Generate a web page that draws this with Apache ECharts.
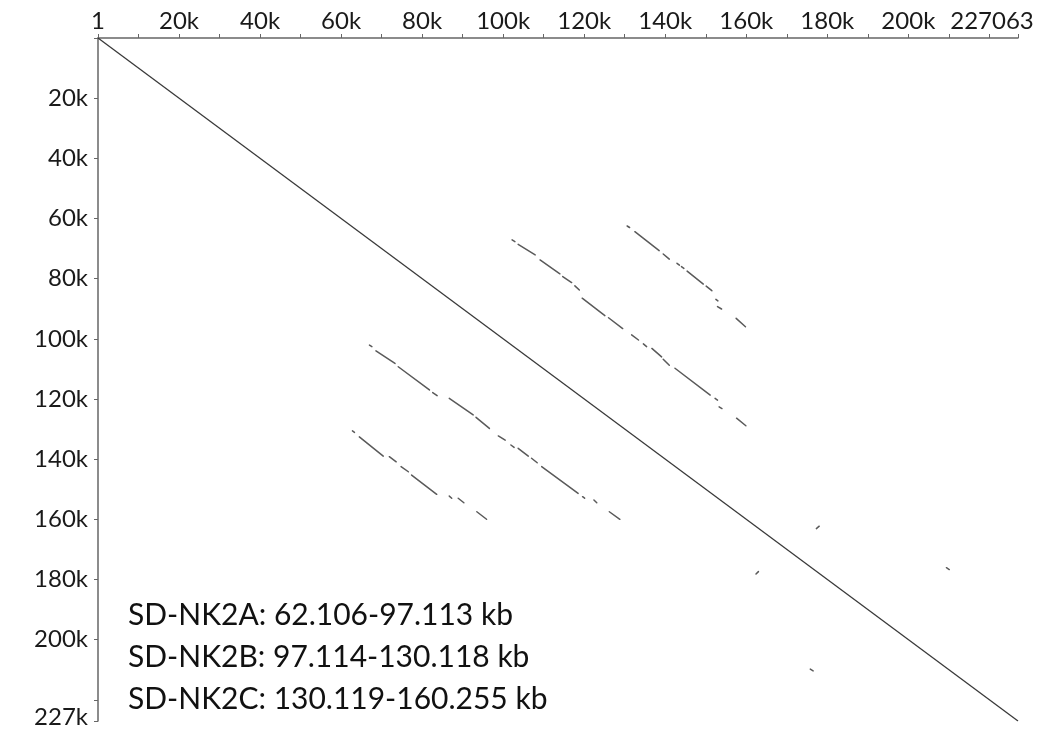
<!DOCTYPE html>
<html><head><meta charset="utf-8">
<script src="https://cdn.jsdelivr.net/npm/echarts@6/dist/echarts.min.js"></script>
<style>html,body{margin:0;padding:0;background:#fff}#c{width:1054px;height:738px}</style>
</head><body><div id="c"></div>
<script>
// ---- data (positions in bp / kb) ----
const genomeLength = 227063;
const xLabelValues = [0, 20000, 40000, 60000, 80000, 100000, 120000, 140000, 160000, 180000, 200000, 227063];
const xLabelTexts  = ['1', '20k', '40k', '60k', '80k', '100k', '120k', '140k', '160k', '180k', '200k', '227063'];
const yLabelValues = [20000, 40000, 60000, 80000, 100000, 120000, 140000, 160000, 180000, 200000, 227063];
const yLabelTexts  = ['20k', '40k', '60k', '80k', '100k', '120k', '140k', '160k', '180k', '200k', '227k'];

// self match, [x1, y1, x2, y2] in bp
const mainDiagonal = [[1, 1, 227063, 227063]];

// repeat match fragments, [x1, y1, x2, y2] in kb
const upperLong = [
  [102.2, 67.1, 102.9, 67.7],
  [103.7, 68.6, 107.9, 72.1],
  [109.1, 73.8, 114.0, 78.4],
  [114.7, 79.3, 116.9, 81.3],
  [117.7, 82.4, 118.8, 83.8],
  [119.5, 86.5, 125.1, 92.3],
  [126.0, 93.0, 129.5, 96.6],
  [131.7, 98.7, 133.4, 100.4],
  [134.6, 101.7, 135.4, 102.6],
  [136.7, 103.2, 139.1, 106.0],
  [139.5, 106.8, 141.0, 108.8],
  [142.4, 109.8, 151.1, 118.7],
  [152.3, 119.8, 152.9, 120.4],
  [153.3, 122.6, 154.0, 123.2],
  [157.6, 126.4, 159.9, 128.9]
];
const upperShort = [
  [130.6, 62.5, 131.2, 63.0],
  [132.5, 64.4, 138.5, 70.7],
  [139.5, 71.8, 141.0, 73.5],
  [142.9, 74.9, 143.5, 75.5],
  [144.0, 76.0, 144.6, 76.6],
  [145.4, 77.5, 149.4, 81.8],
  [150.1, 82.5, 151.5, 84.0],
  [152.5, 86.9, 153.0, 87.4],
  [152.9, 89.3, 153.9, 90.1],
  [157.5, 93.2, 159.8, 96.0]
];
const lowerLong = [
  [67.0, 102.1, 67.6, 102.6],
  [68.6, 104.0, 73.3, 108.2],
  [74.1, 109.3, 81.8, 117.0],
  [82.6, 117.9, 83.7, 118.9],
  [86.7, 119.8, 92.6, 125.3],
  [93.3, 126.1, 96.6, 129.8],
  [98.8, 132.3, 100.5, 133.7],
  [101.9, 135.3, 102.7, 136.1],
  [103.7, 136.4, 106.2, 139.0],
  [107.0, 139.7, 108.4, 141.2],
  [109.5, 142.5, 118.5, 151.4],
  [119.6, 152.5, 120.1, 153.0],
  [122.4, 153.6, 123.1, 154.5],
  [126.2, 157.5, 128.8, 160.0]
];
const lowerShort = [
  [62.8, 130.6, 63.3, 131.1],
  [64.5, 132.6, 70.4, 139.0],
  [71.9, 139.2, 73.6, 140.9],
  [74.8, 142.5, 76.6, 144.2],
  [77.4, 145.3, 83.6, 151.7],
  [86.7, 152.3, 87.3, 153.0],
  [88.9, 153.0, 90.3, 154.5],
  [93.5, 157.5, 95.9, 160.0]
];
const isolatedHits = [
  [177.3, 163.1, 178.0, 162.3],
  [162.4, 178.2, 163.0, 177.4],
  [209.4, 176.1, 210.1, 176.7],
  [175.8, 209.8, 176.5, 210.4]
];
const annotations = ['SD-NK2A: 62.106-97.113 kb', 'SD-NK2B: 97.114-130.118 kb', 'SD-NK2C: 130.119-160.255 kb'];

// ---- chart ----
const FONT = 'Lato';
const toCoords = (list, k) => list.map(p => ({coords: [[p[0] * k, p[1] * k], [p[2] * k, p[3] * k]]}));
const repeats = [].concat(
  toCoords(upperLong, 1000), toCoords(upperShort, 1000),
  toCoords(lowerLong, 1000), toCoords(lowerShort, 1000),
  toCoords(isolatedHits, 1000)
);
const labelFor = (values, texts) => v => {
  const i = values.findIndex(x => Math.abs(x - v) < 1);
  return i < 0 ? '' : texts[i];
};

const chart = echarts.init(document.getElementById('c'), null, {renderer: 'canvas'});
chart.setOption({
  animation: false,
  backgroundColor: '#fff',
  grid: {left: 98, right: 36, top: 38, bottom: 17, containLabel: false},
  xAxis: {
    type: 'value', position: 'top', min: 0, max: genomeLength, interval: 10000,
    splitLine: {show: false},
    axisLine: {show: true, lineStyle: {color: '#666', width: 1.5}},
    axisTick: {show: true, length: 4, inside: false, lineStyle: {color: '#666', width: 1}},
    axisLabel: {
      customValues: xLabelValues, margin: 5,
      fontFamily: FONT, fontSize: 24, color: '#1a1a1a',
      formatter: v => {
        const t = labelFor(xLabelValues, xLabelTexts)(v);
        return v === genomeLength ? '{last|' + t + '}' : t;
      },
      rich: {last: {fontFamily: FONT, fontSize: 24, color: '#1a1a1a', padding: [0, 52, 0, 0]}}
    }
  },
  yAxis: {
    type: 'value', inverse: true, min: 0, max: genomeLength, interval: 20000,
    splitLine: {show: false},
    axisLine: {show: true, lineStyle: {color: '#666', width: 1.5}},
    axisTick: {show: true, length: 4, inside: false, lineStyle: {color: '#666', width: 1}},
    axisLabel: {
      customValues: yLabelValues, margin: 10,
      fontFamily: FONT, fontSize: 24, color: '#1a1a1a',
      formatter: v => {
        const t = labelFor(yLabelValues, yLabelTexts)(v);
        return v === genomeLength ? '{last|' + t + '}' : t;
      },
      rich: {last: {fontFamily: FONT, fontSize: 24, color: '#1a1a1a', padding: [0, 0, 8, 0]}}
    }
  },
  series: [
    {
      type: 'lines', coordinateSystem: 'cartesian2d', silent: true,
      data: toCoords(mainDiagonal, 1),
      lineStyle: {color: '#3a3a3a', width: 1.3, opacity: 1}
    },
    {
      type: 'lines', coordinateSystem: 'cartesian2d', silent: true,
      data: repeats,
      lineStyle: {color: '#5a5a5a', width: 1.5, opacity: 1, cap: 'round'}
    }
  ],
  graphic: annotations.map((t, i) => ({
    type: 'text', left: 128, top: 600 + i * 42, silent: true,
    style: {text: t, fontFamily: FONT, fontSize: 30, fill: '#111'}
  }))
});
</script>
</body></html>
